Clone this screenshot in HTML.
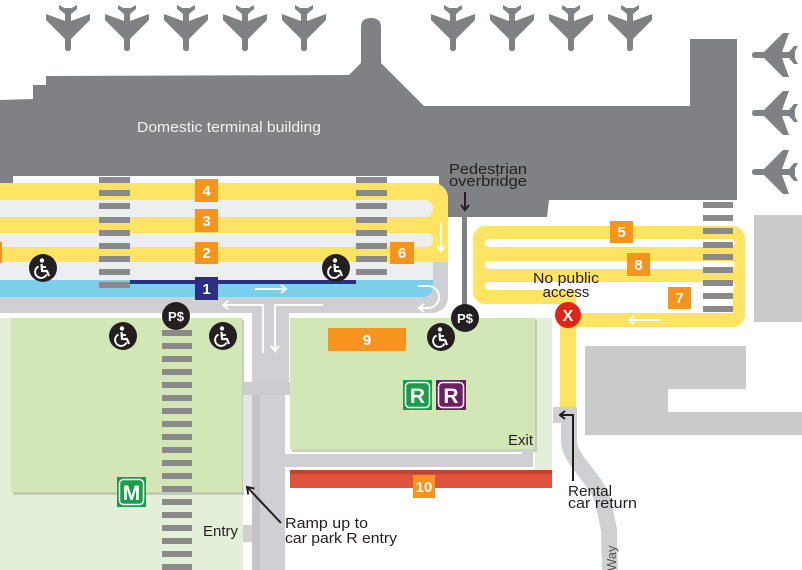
<!DOCTYPE html>
<html><head><meta charset="utf-8"><style>
html,body{margin:0;padding:0;background:#fff;}
svg{display:block;}
text{font-family:"Liberation Sans",sans-serif;}
</style></head><body>
<svg width="802" height="570" viewBox="0 0 802 570" xmlns="http://www.w3.org/2000/svg">
<defs>
<path id="pl" d="M-9,0 L-2,4 L2,4 L9,0 L9,4 L3,9 L-3,9 L-9,4 Z M-3,3 L3,3 L3,43 Q3,46 0,46 Q-3,46 -3,43 Z M-3,16 L-22,9 L-22,15 L-3,34 Z M3,16 L22,9 L22,15 L3,34 Z" fill="#808184"/>
<g id="wc"><circle r="14" fill="#231f20"/><circle cx="-1" cy="-7.5" r="2.2" fill="#fff"/><path d="M-1.5,-4 L-1,3 L4,3 L6,8" stroke="#fff" stroke-width="2.2" fill="none" stroke-linejoin="round"/><path d="M-1,-1 H3" stroke="#fff" stroke-width="1.8"/><path d="M-4.5,-1.5 A6,6 0 1 0 3.5,6.5" stroke="#fff" stroke-width="1.9" fill="none"/></g>
<g id="ps"><circle r="14" fill="#231f20"/><text x="0" y="5" text-anchor="middle" font-size="13" font-weight="bold" fill="#fff">P$</text></g>
</defs>

<!-- planes -->
<use href="#pl" transform="translate(68,5)"/>
<use href="#pl" transform="translate(127,5)"/>
<use href="#pl" transform="translate(186,5)"/>
<use href="#pl" transform="translate(245,5)"/>
<use href="#pl" transform="translate(304,5)"/>
<use href="#pl" transform="translate(453,5)"/>
<use href="#pl" transform="translate(512,5)"/>
<use href="#pl" transform="translate(571,5)"/>
<use href="#pl" transform="translate(630,5)"/>
<use href="#pl" transform="translate(798,55) rotate(90)"/>
<use href="#pl" transform="translate(798,113) rotate(90)"/>
<use href="#pl" transform="translate(798,172) rotate(90)"/>

<!-- building -->
<path d="M0,100 L33,99 L33,85 L46,85 L46,76 L349,75 L361,63 L361,27 Q361,18 371,18 Q381,18 381,27 L381,63 L424,106 L690,106 L690,39 L737,39 L737,200 L549,200 L547,217 L439,217 L439,176 L13,176 L13,187 L0,187 Z" fill="#808184"/>
<text x="137" y="132" font-size="15" fill="#f2f2f2" textLength="184" lengthAdjust="spacingAndGlyphs">Domestic terminal building</text>
<text x="449" y="174" font-size="15" fill="#231f20" textLength="78" lengthAdjust="spacingAndGlyphs">Pedestrian</text>
<text x="449" y="186" font-size="15" fill="#231f20" textLength="78" lengthAdjust="spacingAndGlyphs">overbridge</text>
<line x1="465" y1="192" x2="465" y2="210" stroke="#231f20" stroke-width="2"/>
<polyline points="461,205 465,210 469,205" stroke="#231f20" stroke-width="2" fill="none"/>

<!-- main road -->
<path d="M0,183 H433 A15,15 0 0 1 448,198 V297 A16,16 0 0 1 432,313 H0 Z" fill="#cfd0d4"/>
<path d="M0,183 H433 A15,15 0 0 1 448,198 V262 H0 Z" fill="#fee462"/>
<rect x="-10" y="200" width="443" height="17" rx="8" fill="#edeef0"/>
<rect x="-10" y="233" width="443" height="14" rx="7" fill="#edeef0"/>
<rect x="-10" y="262" width="443" height="18" fill="#edeef0"/>
<path d="M0,280 H433 V287 A10,10 0 0 1 423,297 H0 Z" fill="#7ccfea"/>
<rect x="130" y="280" width="226" height="4" fill="#2b2e83"/>
<rect x="0" y="242" width="2" height="21" fill="#f7941d"/>

<!-- crosswalks -->
<g fill="#8a8a8a">
<rect x="99" y="177" width="31" height="6"/><rect x="99" y="190" width="31" height="6"/><rect x="99" y="203" width="31" height="6"/><rect x="99" y="217" width="31" height="6"/><rect x="99" y="230" width="31" height="6"/><rect x="99" y="243" width="31" height="6"/><rect x="99" y="256" width="31" height="6"/><rect x="99" y="269" width="31" height="6"/><rect x="99" y="282" width="31" height="6"/>
<rect x="356" y="177" width="31" height="6"/><rect x="356" y="190" width="31" height="6"/><rect x="356" y="203" width="31" height="6"/><rect x="356" y="217" width="31" height="6"/><rect x="356" y="230" width="31" height="6"/><rect x="356" y="243" width="31" height="6"/><rect x="356" y="256" width="31" height="6"/><rect x="356" y="269" width="31" height="6"/>
</g>

<!-- lane labels -->
<g font-size="15" font-weight="bold" fill="#fff" text-anchor="middle">
<rect x="195" y="179" width="23" height="23" fill="#f7941d"/><text x="206.5" y="196">4</text>
<rect x="195" y="209" width="23" height="23" fill="#f7941d"/><text x="206.5" y="226">3</text>
<rect x="195" y="242" width="23" height="22" fill="#f7941d"/><text x="206.5" y="258">2</text>
<rect x="195" y="277" width="23" height="23" fill="#2b2e83"/><text x="206.5" y="294">1</text>
<rect x="390" y="242" width="24" height="22" fill="#f7941d"/><text x="402" y="258">6</text>
</g>

<!-- white arrows main road -->
<g stroke="#fff" stroke-width="2" fill="none">
<line x1="441" y1="222" x2="441" y2="251"/><polyline points="437,246 441,251 445,246"/>
<line x1="255" y1="289" x2="286" y2="289"/><polyline points="281,285 286,289 281,293"/>
<path d="M418,286 H428 A11,11 0 0 1 428,308 H420"/><polyline points="424,304 419,308 424,312"/>
</g>

<!-- right loop -->
<path d="M485,226 H733 A12,12 0 0 1 745,238 V315 A12,12 0 0 1 733,327 H576 V408 H560 V304 H485 A12,12 0 0 1 473,292 V238 A12,12 0 0 1 485,226 Z" fill="#fee462"/>
<rect x="485" y="239" width="250" height="8" rx="4" fill="#fff"/>
<rect x="485" y="261" width="250" height="8" rx="4" fill="#fff"/>
<rect x="485" y="282" width="250" height="8" rx="4" fill="#fff"/>
<rect x="576" y="282" width="157" height="31" fill="#fff"/>
<g fill="#8a8a8a">
<rect x="703" y="202" width="30" height="6"/><rect x="703" y="215" width="30" height="6"/><rect x="703" y="228" width="30" height="6"/><rect x="703" y="242" width="30" height="6"/><rect x="703" y="254" width="30" height="6"/><rect x="703" y="267" width="30" height="6"/><rect x="703" y="280" width="30" height="6"/><rect x="703" y="293" width="30" height="6"/><rect x="703" y="306" width="30" height="6"/>
</g>
<g font-size="15" font-weight="bold" fill="#fff" text-anchor="middle">
<rect x="610" y="221" width="23" height="22" fill="#f7941d"/><text x="621.5" y="237">5</text>
<rect x="627" y="253" width="23" height="23" fill="#f7941d"/><text x="638.5" y="270">8</text>
<rect x="668" y="287" width="23" height="22" fill="#f7941d"/><text x="679.5" y="303">7</text>
</g>
<g stroke="#fff" stroke-width="2" fill="none"><line x1="660" y1="320" x2="629" y2="320"/><polyline points="634,316 629,320 634,324"/></g>
<text x="566" y="283" font-size="15" fill="#231f20" text-anchor="middle" textLength="66" lengthAdjust="spacingAndGlyphs">No public</text>
<text x="566" y="297" font-size="15" fill="#231f20" text-anchor="middle">access</text>

<!-- pole -->
<rect x="462" y="217" width="5" height="92" fill="#808184"/>

<!-- gray blocks right -->
<rect x="754" y="215" width="48" height="107" fill="#cacaca"/>
<polygon points="585,346 746,346 746,389 668,389 668,412 802,412 802,435 585,435" fill="#cacaca"/>

<!-- rental road -->
<path d="M569,410 L569,440 C569,462 598,478 604,505 L609,530 L610,575" stroke="#cfd0d4" stroke-width="16" fill="none"/>
<rect x="553" y="407" width="24" height="16" fill="#cfd0d4"/>
<text transform="translate(616,571) rotate(-90)" font-size="13" fill="#555">Way</text>

<!-- green areas -->
<rect x="0" y="318" width="243" height="252" fill="#e3efd9"/>
<rect x="535" y="318" width="17" height="152" fill="#e3efd9"/>
<rect x="13" y="320" width="231" height="175" fill="#a9b497" opacity="0.6"/>
<rect x="11" y="318" width="231" height="174" fill="#d3e6b6"/>
<rect x="292" y="320" width="245" height="132" fill="#a9b497" opacity="0.6"/>
<rect x="290" y="318" width="245" height="131" fill="#d3e6b6"/>

<!-- center road -->
<rect x="252" y="313" width="37" height="82" fill="#cfd0d4"/>
<rect x="243" y="395" width="9" height="92" fill="#e4e5e7"/>
<rect x="252" y="395" width="33" height="175" fill="#cfd0d4"/>
<rect x="252" y="395" width="8" height="175" fill="#c3c4c8"/>
<rect x="243" y="382" width="47" height="13" fill="#cbccd0"/>
<rect x="243" y="525" width="9" height="17" fill="#cfd0d4"/>
<g stroke="#fff" stroke-width="2" fill="none">
<polyline points="263,353 263,305 223,305"/><polyline points="228,301 223,305 228,309"/>
<polyline points="323,305 275,305 275,351"/><polyline points="271,346 275,351 279,346"/>
</g>

<!-- bottom bars -->
<rect x="283" y="454" width="250" height="13" fill="#cfd0d4"/>
<rect x="522" y="449" width="11" height="18" fill="#cfd0d4"/>
<rect x="290" y="470" width="262" height="18" fill="#e0523e"/>
<rect x="290" y="470" width="262" height="4" fill="#c4432f"/>
<rect x="413" y="475" width="22" height="23" fill="#f7941d"/>
<text x="424" y="492" font-size="15" font-weight="bold" fill="#fff" text-anchor="middle">10</text>

<!-- vertical crosswalk -->
<g fill="#8a8a8a">
<rect x="162" y="330" width="30" height="6"/><rect x="162" y="343" width="30" height="6"/><rect x="162" y="356" width="30" height="6"/><rect x="162" y="369" width="30" height="6"/><rect x="162" y="382" width="30" height="6"/><rect x="162" y="395" width="30" height="6"/><rect x="162" y="408" width="30" height="6"/><rect x="162" y="421" width="30" height="6"/><rect x="162" y="434" width="30" height="6"/><rect x="162" y="447" width="30" height="6"/><rect x="162" y="460" width="30" height="6"/><rect x="162" y="473" width="30" height="6"/><rect x="162" y="486" width="30" height="6"/><rect x="162" y="499" width="30" height="6"/><rect x="162" y="512" width="30" height="6"/><rect x="162" y="525" width="30" height="6"/><rect x="162" y="538" width="30" height="6"/><rect x="162" y="551" width="30" height="6"/><rect x="162" y="564" width="30" height="6"/>
</g>

<!-- 9 box -->
<rect x="328" y="328" width="78" height="23" fill="#f7941d"/>
<text x="367" y="345" font-size="15" font-weight="bold" fill="#fff" text-anchor="middle">9</text>

<!-- R and M icons -->
<rect x="403" y="380" width="29" height="30" fill="#1a9c4a"/>
<rect x="405.5" y="382.5" width="24" height="25" rx="4" fill="none" stroke="#fff" stroke-width="1.5"/>
<text x="417.5" y="403" font-size="21" font-weight="bold" fill="#fff" text-anchor="middle">R</text>
<rect x="436" y="380" width="30" height="30" fill="#6b2063"/>
<rect x="438.5" y="382.5" width="25" height="25" rx="4" fill="none" stroke="#fff" stroke-width="1.5"/>
<text x="451" y="403" font-size="21" font-weight="bold" fill="#fff" text-anchor="middle">R</text>
<rect x="117" y="477" width="29" height="30" fill="#1a9c4a"/>
<rect x="119.5" y="479.5" width="24" height="25" rx="4" fill="none" stroke="#fff" stroke-width="1.5"/>
<text x="131.5" y="500" font-size="21" font-weight="bold" fill="#fff" text-anchor="middle">M</text>

<!-- icons -->
<use href="#wc" transform="translate(43,268)"/>
<use href="#wc" transform="translate(336,268)"/>
<use href="#wc" transform="translate(123,336)"/>
<use href="#wc" transform="translate(223,336)"/>
<use href="#wc" transform="translate(441,337)"/>
<use href="#ps" transform="translate(176,316)"/>
<use href="#ps" transform="translate(465,318)"/>
<circle cx="568" cy="315" r="13" fill="#e2231a"/>
<text x="568" y="321" font-size="16" font-weight="bold" fill="#fff" text-anchor="middle">X</text>

<!-- labels -->
<text x="508" y="445" font-size="15" fill="#231f20" textLength="25" lengthAdjust="spacingAndGlyphs">Exit</text>
<text x="203" y="536" font-size="15" fill="#231f20" textLength="35" lengthAdjust="spacingAndGlyphs">Entry</text>
<text x="285" y="528" font-size="15" fill="#231f20" textLength="83" lengthAdjust="spacingAndGlyphs">Ramp up to</text>
<text x="285" y="543" font-size="15" fill="#231f20" textLength="112" lengthAdjust="spacingAndGlyphs">car park R entry</text>
<text x="568" y="496" font-size="15" fill="#231f20" textLength="44" lengthAdjust="spacingAndGlyphs">Rental</text>
<text x="568" y="508" font-size="15" fill="#231f20" textLength="69" lengthAdjust="spacingAndGlyphs">car return</text>

<!-- black arrows -->
<g stroke="#231f20" stroke-width="2" fill="none">
<line x1="281" y1="523" x2="248" y2="488"/><polyline points="248.2,494.5 247,487 254.5,488.6"/>
<polyline points="573,481 573,415 561,415"/><polyline points="565,411 560,415 565,419"/>
</g>
</svg>
</body></html>
